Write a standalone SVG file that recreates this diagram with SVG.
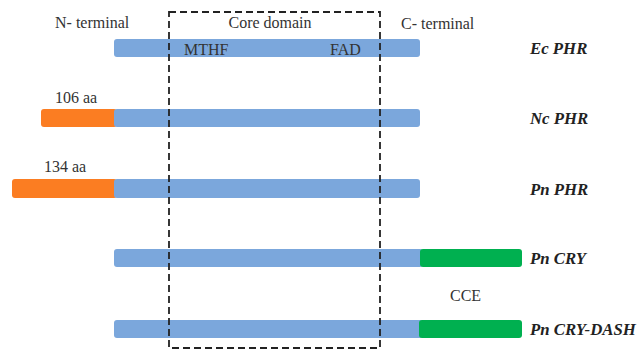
<svg xmlns="http://www.w3.org/2000/svg" width="639" height="360" viewBox="0 0 639 360">
<style>
.t{font-family:"Liberation Serif","Times New Roman",serif;font-size:16px;fill:#333}
.l{font-family:"Liberation Serif","Times New Roman",serif;font-size:16.8px;font-weight:bold;font-style:italic;fill:#222}
.b{fill:#7BA7DC}
.o{fill:#FB7D22}
.g{fill:#00B050}
</style>
<rect width="639" height="360" fill="#fff"/>
<g id="ec-phr">
<rect class="b" x="114" y="39" width="306" height="18" rx="3"/>
<text class="l" x="530" y="54">Ec PHR</text>
</g>
<g id="nc-phr">
<rect class="o" x="41" y="109" width="76" height="18" rx="3"/>
<rect class="b" x="114" y="109" width="306" height="18" rx="3"/>
<text class="l" x="530" y="124">Nc PHR</text>
</g>
<g id="pn-phr">
<rect class="o" x="12" y="179" width="105" height="19" rx="3"/>
<rect class="b" x="114" y="179" width="306" height="19" rx="3"/>
<text class="l" x="530" y="195">Pn PHR</text>
</g>
<g id="pn-cry">
<rect class="b" x="114" y="249" width="309" height="18" rx="3"/>
<rect class="g" x="420" y="249" width="102" height="18" rx="3"/>
<text class="l" x="530" y="264">Pn CRY</text>
</g>
<g id="pn-cry-dash">
<rect class="b" x="114" y="320" width="309" height="18" rx="3"/>
<rect class="g" x="419" y="320" width="103" height="18" rx="3"/>
<text class="l" x="530" y="335">Pn CRY-DASH</text>
</g>
<g id="core-domain">
<rect x="169" y="12" width="211" height="336" fill="none" stroke="#222" stroke-width="1.8" stroke-dasharray="7,4"/>
</g>
<g id="labels">
<text class="t" x="55" y="28">N- terminal</text>
<text class="t" x="270" y="28" text-anchor="middle">Core domain</text>
<text class="t" x="401" y="29">C- terminal</text>
<text class="t" x="184" y="55">MTHF</text>
<text class="t" x="330" y="55">FAD</text>
<text class="t" x="55" y="103">106 aa</text>
<text class="t" x="44" y="172">134 aa</text>
<text class="t" x="450" y="301">CCE</text>
</g>
<g id="connectors"/>
</svg>
